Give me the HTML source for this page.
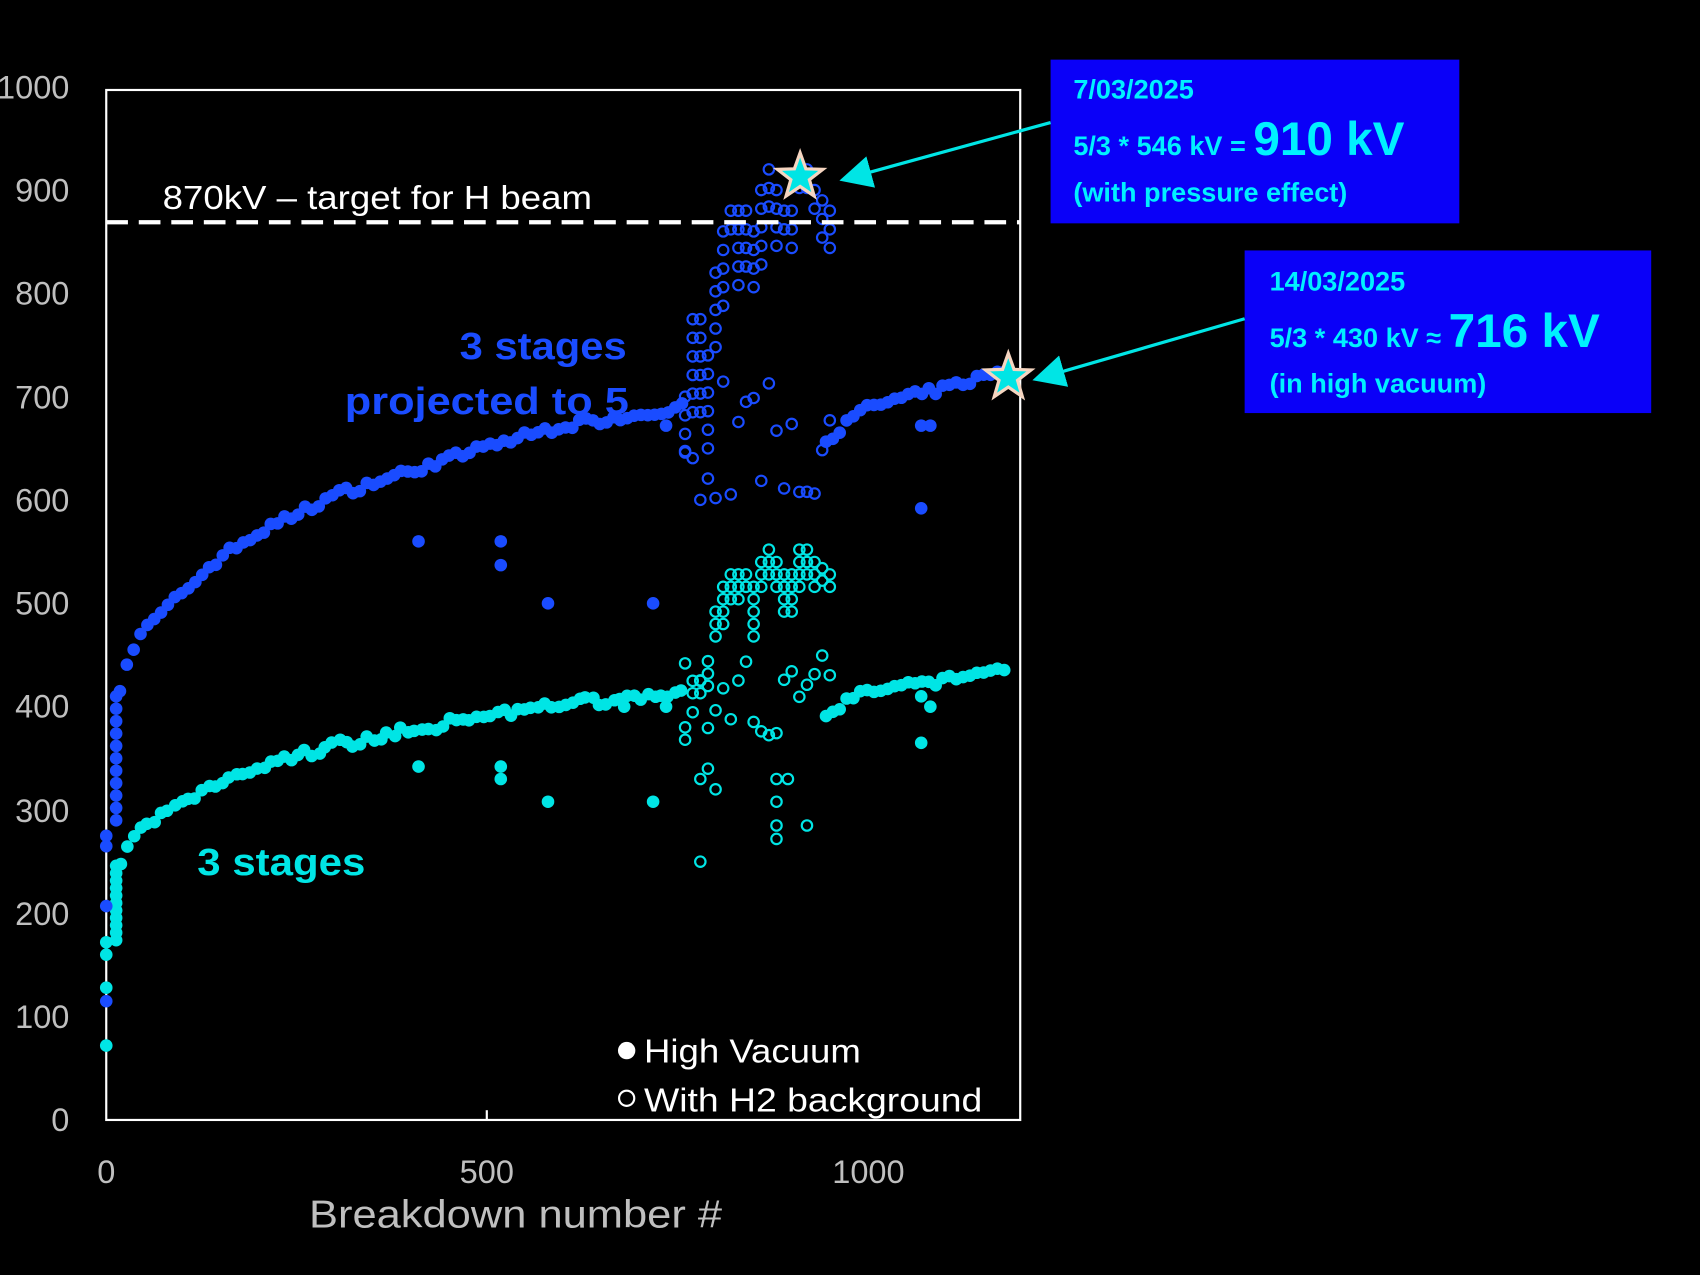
<!DOCTYPE html>
<html><head><meta charset="utf-8"><style>
html,body{margin:0;padding:0;background:#000;width:1700px;height:1275px;overflow:hidden}
svg{display:block}
text{font-family:"Liberation Sans",sans-serif}
</style></head><body>
<svg id="s" width="1700" height="1275" viewBox="0 0 1568 1176" xmlns="http://www.w3.org/2000/svg">
<rect width="1568" height="1176" fill="#000"/>
<rect x="98" y="83" width="843" height="950" fill="none" stroke="#fff" stroke-width="2"/>
<line x1="449" y1="1033" x2="449" y2="1024" stroke="#fff" stroke-width="2"/>
<g fill="#bfbfbf" font-size="30" text-anchor="end">
<text x="64" y="91">1000</text><text x="64" y="186">900</text><text x="64" y="281">800</text>
<text x="64" y="377">700</text><text x="64" y="472">600</text><text x="64" y="567">500</text>
<text x="64" y="662">400</text><text x="64" y="758">300</text><text x="64" y="853">200</text>
<text x="64" y="948">100</text><text x="64" y="1043">0</text>
</g>
<g fill="#bfbfbf" font-size="30" text-anchor="middle">
<text x="98" y="1091">0</text><text x="449" y="1091">500</text><text x="801" y="1091">1000</text>
</g>
<text x="285" y="1132" fill="#bfbfbf" font-size="36" textLength="381" lengthAdjust="spacingAndGlyphs">Breakdown number #</text>
<g id="pts"></g>
<line x1="98" y1="205" x2="941" y2="205" stroke="#fff" stroke-width="4" stroke-dasharray="20,10"/>
<text x="150" y="193" fill="#fff" font-size="31" textLength="396" lengthAdjust="spacingAndGlyphs">870kV – target for H beam</text>
<text x="424" y="331" fill="#1a4cff" font-size="35" font-weight="bold" textLength="154" lengthAdjust="spacingAndGlyphs">3 stages</text>
<text x="318" y="382" fill="#1a4cff" font-size="35" font-weight="bold" textLength="262" lengthAdjust="spacingAndGlyphs">projected to 5</text>
<text x="182" y="807" fill="#00e5e5" font-size="35" font-weight="bold" textLength="155" lengthAdjust="spacingAndGlyphs">3 stages</text>
<circle cx="578" cy="969" r="8" fill="#fff"/>
<text x="594" y="980" fill="#fff" font-size="31" textLength="200" lengthAdjust="spacingAndGlyphs">High Vacuum</text>
<circle cx="578" cy="1013" r="7" fill="none" stroke="#fff" stroke-width="2"/>
<text x="594" y="1025" fill="#fff" font-size="31" textLength="312" lengthAdjust="spacingAndGlyphs">With H2 background</text>
<g id="stars"></g>
<rect x="969" y="55" width="377" height="151" fill="#0a00f8"/>
<rect x="1148" y="231" width="375" height="150" fill="#0a00f8"/>
<g fill="#00f0ff" font-weight="bold">
<text x="990" y="91" font-size="25">7/03/2025</text>
<text x="990" y="143" font-size="25">5/3 * 546 kV = <tspan font-size="44">910 kV</tspan></text>
<text x="990" y="186" font-size="25">(with pressure effect)</text>
<text x="1171" y="268" font-size="25">14/03/2025</text>
<text x="1171" y="320" font-size="25">5/3 * 430 kV ≈ <tspan font-size="44">716 kV</tspan></text>
<text x="1171" y="362" font-size="25">(in high vacuum)</text>
</g>
<defs><marker id="ah" markerWidth="10" markerHeight="10" refX="8" refY="5" orient="auto"><path d="M0,0 L10,5 L0,10 z" fill="#00e5e5"/></marker></defs>
<line x1="969" y1="113" x2="780" y2="165" stroke="#00e5e5" stroke-width="3" marker-end="url(#ah)"/>
<line x1="1148" y1="294" x2="958" y2="349" stroke="#00e5e5" stroke-width="3" marker-end="url(#ah)"/>
</svg>
<script>
var NS="http://www.w3.org/2000/svg",g=document.getElementById("pts");
function X(x){return 98+x*0.7025}function Y(v){return 1033-v*0.953}
function dot(x,v,c,open){var e=document.createElementNS(NS,"circle");e.setAttribute("cx",X(x));e.setAttribute("cy",Y(v));
 if(open){e.setAttribute("r",4.8);e.setAttribute("fill","none");e.setAttribute("stroke",c);e.setAttribute("stroke-width",2);}
 else{e.setAttribute("r",5.8);e.setAttribute("fill",c);}g.appendChild(e);}
var B="#1a4cff",C="#00e5e5";
var T=[[0,275],[12,300],[15,410],[25,440],[45,470],[100,510],[150,545],[200,568],[300,605],[400,628],[500,652],[600,672],[700,683],[760,690],[940,655],[1000,690],[1100,708],[1185,727]];
function f(x){for(var i=1;i<T.length;i++){if(x<=T[i][0]){var a=T[i-1],b=T[i];return a[1]+(b[1]-a[1])*(x-a[0])/(b[0]-a[0]);}}return 727;}
var seed=7;function r(){seed=(seed*16807)%2147483647;return seed/2147483647;}
for(var v=290;v<=410;v+=12){dot(13,v,B);dot(13,v*0.6,C);}
for(var x=18;x<=760;x+=9){var v=f(x)+(r()-0.5)*8;dot(x,v,B);dot(x+(r()-0.5)*3,v*0.6+(r()-0.5)*6,C);}
for(var x=945;x<=1185;x+=9){var v=f(x)+(r()-0.5)*8;dot(x,v,B);dot(x,v*0.6+(r()-0.5)*6,C);}
[[0,115],[0,207],[0,265],[0,275],[410,560],[518,560],[518,537],[580,500],[718,500],[1070,592],[1070,672],[1082,672],[735,672]].forEach(function(p){dot(p[0],p[1],B);});
[[0,72],[0,128],[0,160],[0,172],[410,342],[518,342],[518,330],[580,308],[718,308],[1070,365],[1070,410],[1082,400],[680,400],[735,400]].forEach(function(p){dot(p[0],p[1],C);});
var tops={760:700,770:775,780:775,790:740,800:820,810:860,820:880,830:880,840:880,850:860,860:900,870:920,880:900,890:880,900:880,910:920,920:920,930:900,940:890,950:880};
for(var cx=760;cx<=950;cx+=10){var t=tops[cx],n=2+Math.floor(r()*5);
 for(var k=0;k<n;k++){dot(cx,t-k*18,B,true);}
 dot(cx,600+r()*120,B,true);
 var ct=t*0.6-(cx<790?40:0);
 for(var k=0;k<2+Math.floor(r()*4);k++){dot(cx,ct-k*12,C,true);}
 dot(cx,370+r()*80,C,true);
}
[[780,250],[880,272],[880,285],[920,285],[880,308],[880,330],[895,330],[790,340],[780,330],[800,320]].forEach(function(p){dot(p[0],p[1],C,true);});
function star(cx,cy){var s="",R=22,r2=9;for(var i=0;i<10;i++){var a=-Math.PI/2+i*Math.PI/5,rr=i%2?r2:R;s+=(cx+rr*Math.cos(a))+","+(cy+rr*Math.sin(a))+" ";}
 var p=document.createElementNS(NS,"polygon");p.setAttribute("points",s);p.setAttribute("fill","#00e5e5");p.setAttribute("stroke","#f5d5c0");p.setAttribute("stroke-width",3);document.getElementById("stars").appendChild(p);}
star(738,163);star(930,348);
</script>
</body></html>
